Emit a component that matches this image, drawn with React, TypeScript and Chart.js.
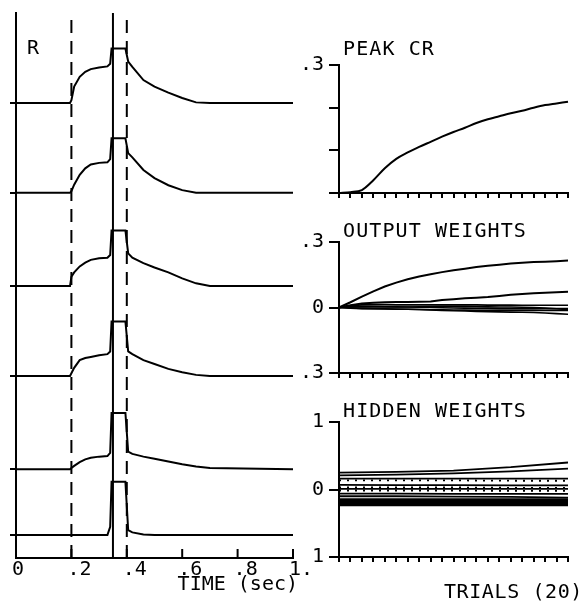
import React, { useEffect, useRef } from 'react';
import { Chart, registerables } from 'chart.js';
Chart.register(...registerables);

const FONT = '"DejaVu Sans Mono", monospace';
const INK = '#000';

// ---------- Left panel: response R over time (six stages of training) ----------
const TIME = [0, 0.195, 0.2, 0.21, 0.23, 0.25, 0.27, 0.3, 0.33, 0.34, 0.345, 0.395, 0.405, 0.42, 0.46, 0.5, 0.55, 0.6, 0.65, 0.7, 1.0];
const R1 = [0, 0, 0.05, 0.3, 0.48, 0.57, 0.62, 0.65, 0.67, 0.72, 1.0, 1.0, 0.76, 0.66, 0.42, 0.3, 0.19, 0.09, 0.01, 0, 0];
const R2 = [0, 0, 0.03, 0.15, 0.33, 0.45, 0.52, 0.55, 0.56, 0.62, 1.0, 1.0, 0.73, 0.65, 0.42, 0.27, 0.14, 0.05, 0, 0, 0];
const R3 = [0, 0, 0.17, 0.25, 0.36, 0.43, 0.48, 0.51, 0.52, 0.57, 1.02, 1.02, 0.6, 0.52, 0.42, 0.34, 0.25, 0.14, 0.05, 0, 0];
const R4 = [0, 0, 0.05, 0.15, 0.29, 0.33, 0.35, 0.38, 0.4, 0.45, 1.0, 1.0, 0.45, 0.4, 0.29, 0.22, 0.13, 0.07, 0.02, 0, 0];
const R5 = [0, 0, 0.02, 0.06, 0.13, 0.18, 0.21, 0.23, 0.24, 0.3, 1.03, 1.03, 0.32, 0.28, 0.23, 0.19, 0.14, 0.09, 0.05, 0.02, 0];
const R6 = [0, 0, 0, 0, 0, 0, 0, 0, 0, 0.15, 0.98, 0.98, 0.09, 0.05, 0.01, 0, 0, 0, 0, 0, 0];
const TRACES = [R1, R2, R3, R4, R5, R6];
const BASELINES = [8.35, 6.7, 4.99, 3.34, 1.63, 0.42];
const R_MAX = 10;
const TIME_TICKS = [0, 0.2, 0.4, 0.6, 0.8, 1];
const TIME_TICK_LABELS = ['0', '.2', '.4', '.6', '.8', '1.'];
const CS_ONSET = 0.2;
const US_ONSET = 0.35;
const CS_OFFSET = 0.4;

// ---------- Right panels: learning over trials (1 tick = 20 trials) ----------
const TRIALS = [0, 1, 2, 3, 4, 5, 6, 7, 8, 9, 10, 11, 12, 13, 14, 15, 16, 17, 18, 19, 20];
const PEAK_CR = [0, 0.002, 0.007, 0.03, 0.058, 0.08, 0.095, 0.108, 0.12, 0.132, 0.143, 0.153, 0.164, 0.173, 0.18, 0.187, 0.193, 0.2, 0.206, 0.21, 0.214];

const OW1 = [0, 0.024, 0.05, 0.074, 0.096, 0.114, 0.129, 0.142, 0.152, 0.162, 0.171, 0.178, 0.185, 0.191, 0.196, 0.201, 0.205, 0.208, 0.21, 0.212, 0.215];
const OW2 = [0, 0.01, 0.018, 0.022, 0.024, 0.025, 0.025, 0.026, 0.028, 0.034, 0.038, 0.042, 0.045, 0.048, 0.053, 0.058, 0.062, 0.065, 0.068, 0.07, 0.072];
const OW3 = [0, 0.008, 0.012, 0.013, 0.013, 0.012, 0.012, 0.012, 0.012, 0.012, 0.012, 0.012, 0.012, 0.011, 0.011, 0.011, 0.01, 0.01, 0.01, 0.01, 0.01];
const OW4 = [0, -0.003, -0.005, -0.006, -0.007, -0.008, -0.008, -0.009, -0.01, -0.011, -0.012, -0.012, -0.013, -0.013, -0.013, -0.013, -0.013, -0.013, -0.014, -0.014, -0.014];
const OW5 = [0, -0.002, -0.004, -0.005, -0.006, -0.007, -0.008, -0.009, -0.011, -0.013, -0.015, -0.016, -0.018, -0.019, -0.02, -0.021, -0.022, -0.023, -0.025, -0.028, -0.031];
const OW6 = [0, 0.004, 0.006, 0.005, 0.004, 0.003, 0.002, 0.001, 0, -0.001, -0.002, -0.003, -0.004, -0.004, -0.005, -0.005, -0.005, -0.005, -0.005, -0.005, -0.005];
const OW7 = [0, 0.002, 0.003, 0.003, 0.002, 0.002, 0.002, 0.003, 0.004, 0.005, 0.005, 0.005, 0.004, 0.003, 0.002, 0.002, 0.001, 0, -0.003, -0.006, -0.01];
const OUTPUT_WEIGHTS = [OW1, OW2, OW3, OW4, OW5, OW6, OW7];

const HW_TRIALS = [0, 5, 10, 15, 20];
const HW = [
  [0.25, 0.26, 0.28, 0.33, 0.4],
  [0.21, 0.22, 0.24, 0.27, 0.31],
  [0.16, 0.16, 0.16, 0.16, 0.16],
  [0.135, 0.135, 0.135, 0.13, 0.13],
  [0.07, 0.065, 0.065, 0.06, 0.06],
  [0.03, 0.03, 0.03, 0.025, 0.025],
  [0.01, 0.01, 0.01, 0.01, 0.01],
  [-0.015, -0.015, -0.015, -0.02, -0.02],
  [-0.06, -0.06, -0.065, -0.065, -0.065],
  [-0.1, -0.1, -0.105, -0.11, -0.12],
  [-0.15, -0.15, -0.15, -0.15, -0.15],
  [-0.17, -0.17, -0.17, -0.17, -0.17],
  [-0.19, -0.19, -0.19, -0.19, -0.19],
  [-0.21, -0.21, -0.21, -0.21, -0.21],
  [-0.23, -0.23, -0.23, -0.23, -0.23],
];
const HW_DOTTED = [3, 5, 7];

type TextItem = { text: string; at: (a: any, s: any) => [number, number]; align?: CanvasTextAlign; size?: number; spacing?: number };

function textPlugin(id: string, items: TextItem[]) {
  return {
    id,
    afterDraw(chart: any) {
      const ctx = chart.ctx;
      items.forEach((it) => {
        ctx.save();
        ctx.font = `${it.size || 20}px ${FONT}`;
        try { (ctx as any).letterSpacing = `${it.spacing || 0}px`; } catch (e) {}
        ctx.fillStyle = INK;
        ctx.textAlign = it.align || 'left';
        ctx.textBaseline = 'middle';
        const [x, y] = it.at(chart.chartArea, chart.scales);
        ctx.fillText(it.text, x, y);
        ctx.restore();
      });
    },
  };
}

const inwardTicks = {
  id: 'inwardTicks',
  afterDatasetsDraw(chart: any) {
    const s = chart.scales.x;
    const ctx = chart.ctx;
    ctx.save();
    ctx.strokeStyle = INK;
    ctx.lineWidth = 2;
    s.ticks.forEach((t: any) => {
      const px = s.getPixelForValue(t.value);
      ctx.beginPath();
      ctx.moveTo(px, chart.chartArea.bottom);
      ctx.lineTo(px, chart.chartArea.bottom - 9);
      ctx.stroke();
    });
    ctx.restore();
  },
};

function leftConfig(): any {
  const datasets: any[] = TRACES.map((vals, k) => ({
    data: TIME.map((t, i) => ({ x: t, y: BASELINES[k] + vals[i] })),
    borderColor: INK,
    borderWidth: 2,
    pointRadius: 0,
    tension: 0,
    clip: 6,
  }));
  datasets.push({
    data: [{ x: US_ONSET, y: 0 }, { x: US_ONSET, y: R_MAX }],
    borderColor: INK, borderWidth: 2, pointRadius: 0, clip: 6,
  });
  [CS_ONSET, CS_OFFSET].forEach((t) => {
    datasets.push({
      data: [{ x: t, y: 0 }, { x: t, y: R_MAX }],
      borderColor: INK, borderWidth: 2, borderDash: [13, 8], pointRadius: 0, clip: 6,
    });
  });
  return {
    type: 'line',
    data: { datasets },
    options: {
      responsive: false,
      animation: false,
      devicePixelRatio: 1,
      layout: { padding: { left: 0, top: 13, right: 37, bottom: 0 } },
      plugins: { legend: { display: false }, tooltip: { enabled: false } },
      scales: {
        x: {
          type: 'linear', min: 0, max: 1,
          afterBuildTicks: (s: any) => { s.ticks = TIME_TICKS.map((v) => ({ value: v })); },
          afterFit: (s: any) => { s.height = 55; },
          ticks: {
            autoSkip: false, maxRotation: 0, align: 'start', labelOffset: -4, padding: 0,
            color: INK, font: { family: FONT, size: 20 },
            callback: (v: number, i: number) => TIME_TICK_LABELS[i],
          },
          grid: { drawOnChartArea: false, drawTicks: false },
          border: { color: INK, width: 2 },
        },
        y: {
          type: 'linear', min: 0, max: R_MAX,
          afterBuildTicks: (s: any) => { s.ticks = BASELINES.map((v) => ({ value: v })); },
          afterFit: (s: any) => { s.width = 16; },
          ticks: { display: false },
          grid: { drawOnChartArea: false, tickLength: 6, color: INK, lineWidth: 2 },
          border: { color: INK, width: 2 },
        },
      },
    },
    plugins: [
      inwardTicks,
      textPlugin('leftTexts', [
        { text: 'R', at: (a, s) => [s.x.getPixelForValue(0.04), s.y.getPixelForValue(9.35)], size: 20 },
        { text: 'TIME (sec)', at: (a) => [a.right + 5, a.bottom + 27], align: 'right', size: 20, spacing: 0 },
      ]),
    ],
  };
}

function panelConfig(opts: {
  top: number; bottom: number; height: number;
  yMin: number; yMax: number; yTicks: number[]; yLabels: string[];
  datasets: any[]; title: string; titleDy: number; extra?: TextItem[];
}): any {
  return {
    type: 'line',
    data: { datasets: opts.datasets },
    options: {
      responsive: false,
      animation: false,
      devicePixelRatio: 1,
      layout: { padding: { left: 0, top: opts.top, right: 18, bottom: 0 } },
      plugins: { legend: { display: false }, tooltip: { enabled: false } },
      scales: {
        x: {
          type: 'linear', min: 0, max: 20,
          afterFit: (s: any) => { s.height = opts.height - opts.bottom; },
          ticks: { display: false, stepSize: 1, autoSkip: false },
          grid: { drawOnChartArea: false, tickLength: 5, color: INK, lineWidth: 2 },
          border: { color: INK, width: 2 },
        },
        y: {
          type: 'linear', min: opts.yMin, max: opts.yMax,
          afterBuildTicks: (s: any) => { s.ticks = opts.yTicks.map((v) => ({ value: v })); },
          afterFit: (s: any) => { s.width = 49; },
          ticks: {
            autoSkip: false, padding: 5, color: INK, font: { family: FONT, size: 20 },
            callback: (v: number, i: number) => opts.yLabels[i],
          },
          grid: { drawOnChartArea: false, tickLength: 10, color: INK, lineWidth: 2 },
          border: { color: INK, width: 2 },
        },
      },
    },
    plugins: [
      textPlugin('panelTexts', [
        { text: opts.title, at: (a) => [a.left + 4, a.top + opts.titleDy], size: 20, spacing: 1.1 },
        ...(opts.extra || []),
      ]),
    ],
  };
}

const line = (xs: number[], ys: number[], w = 2, dash: number[] = []) => ({
  data: xs.map((x, i) => ({ x, y: ys[i] })),
  borderColor: INK, borderWidth: w, borderDash: dash, pointRadius: 0, tension: 0, clip: 4,
});

function ChartBox({ left, top, width, height, config }: any) {
  const ref = useRef<HTMLCanvasElement>(null);
  useEffect(() => {
    const chart = new Chart(ref.current as HTMLCanvasElement, config());
    return () => chart.destroy();
  }, []);
  return (
    <canvas ref={ref} width={width} height={height}
      style={{ position: 'absolute', left, top, width, height, display: 'block' }} />
  );
}

export default function App() {
  return (
    <div style={{ position: 'absolute', left: 0, top: 0, width: 586, height: 613, background: '#fff', overflow: 'hidden' }}>
      <ChartBox left={0} top={0} width={330} height={613} config={leftConfig} />
      <ChartBox left={290} top={30} width={296} height={180} config={() => panelConfig({
        top: 35, bottom: 163, height: 180, yMin: 0, yMax: 0.3,
        yTicks: [0, 0.1, 0.2, 0.3], yLabels: ['', '', '', '.3'],
        datasets: [{ ...line(TRIALS, PEAK_CR, 2), cubicInterpolationMode: 'monotone' }],
        title: 'PEAK CR', titleDy: -15,
      })} />
      <ChartBox left={290} top={210} width={296} height={180} config={() => panelConfig({
        top: 32, bottom: 164, height: 180, yMin: -0.3, yMax: 0.3,
        yTicks: [-0.3, 0, 0.3], yLabels: ['.3', '0', '.3'],
        datasets: OUTPUT_WEIGHTS.map((w, i) => line(TRIALS, w, i < 2 ? 2 : 1.6)),
        title: 'OUTPUT WEIGHTS', titleDy: -10,
      })} />
      <ChartBox left={290} top={390} width={296} height={223} config={() => panelConfig({
        top: 32, bottom: 167, height: 223, yMin: -1, yMax: 1,
        yTicks: [-1, 0, 1], yLabels: ['1', '0', '1'],
        datasets: HW.map((w, i) => line(HW_TRIALS, w, i >= 10 ? 2.6 : 1.8, HW_DOTTED.includes(i) ? [2, 6] : [])),
        title: 'HIDDEN WEIGHTS', titleDy: -10,
        extra: [{ text: 'TRIALS (20)', at: (a) => [a.right + 15, a.bottom + 36], align: 'right', size: 20, spacing: 0.6 }],
      })} />
    </div>
  );
}
